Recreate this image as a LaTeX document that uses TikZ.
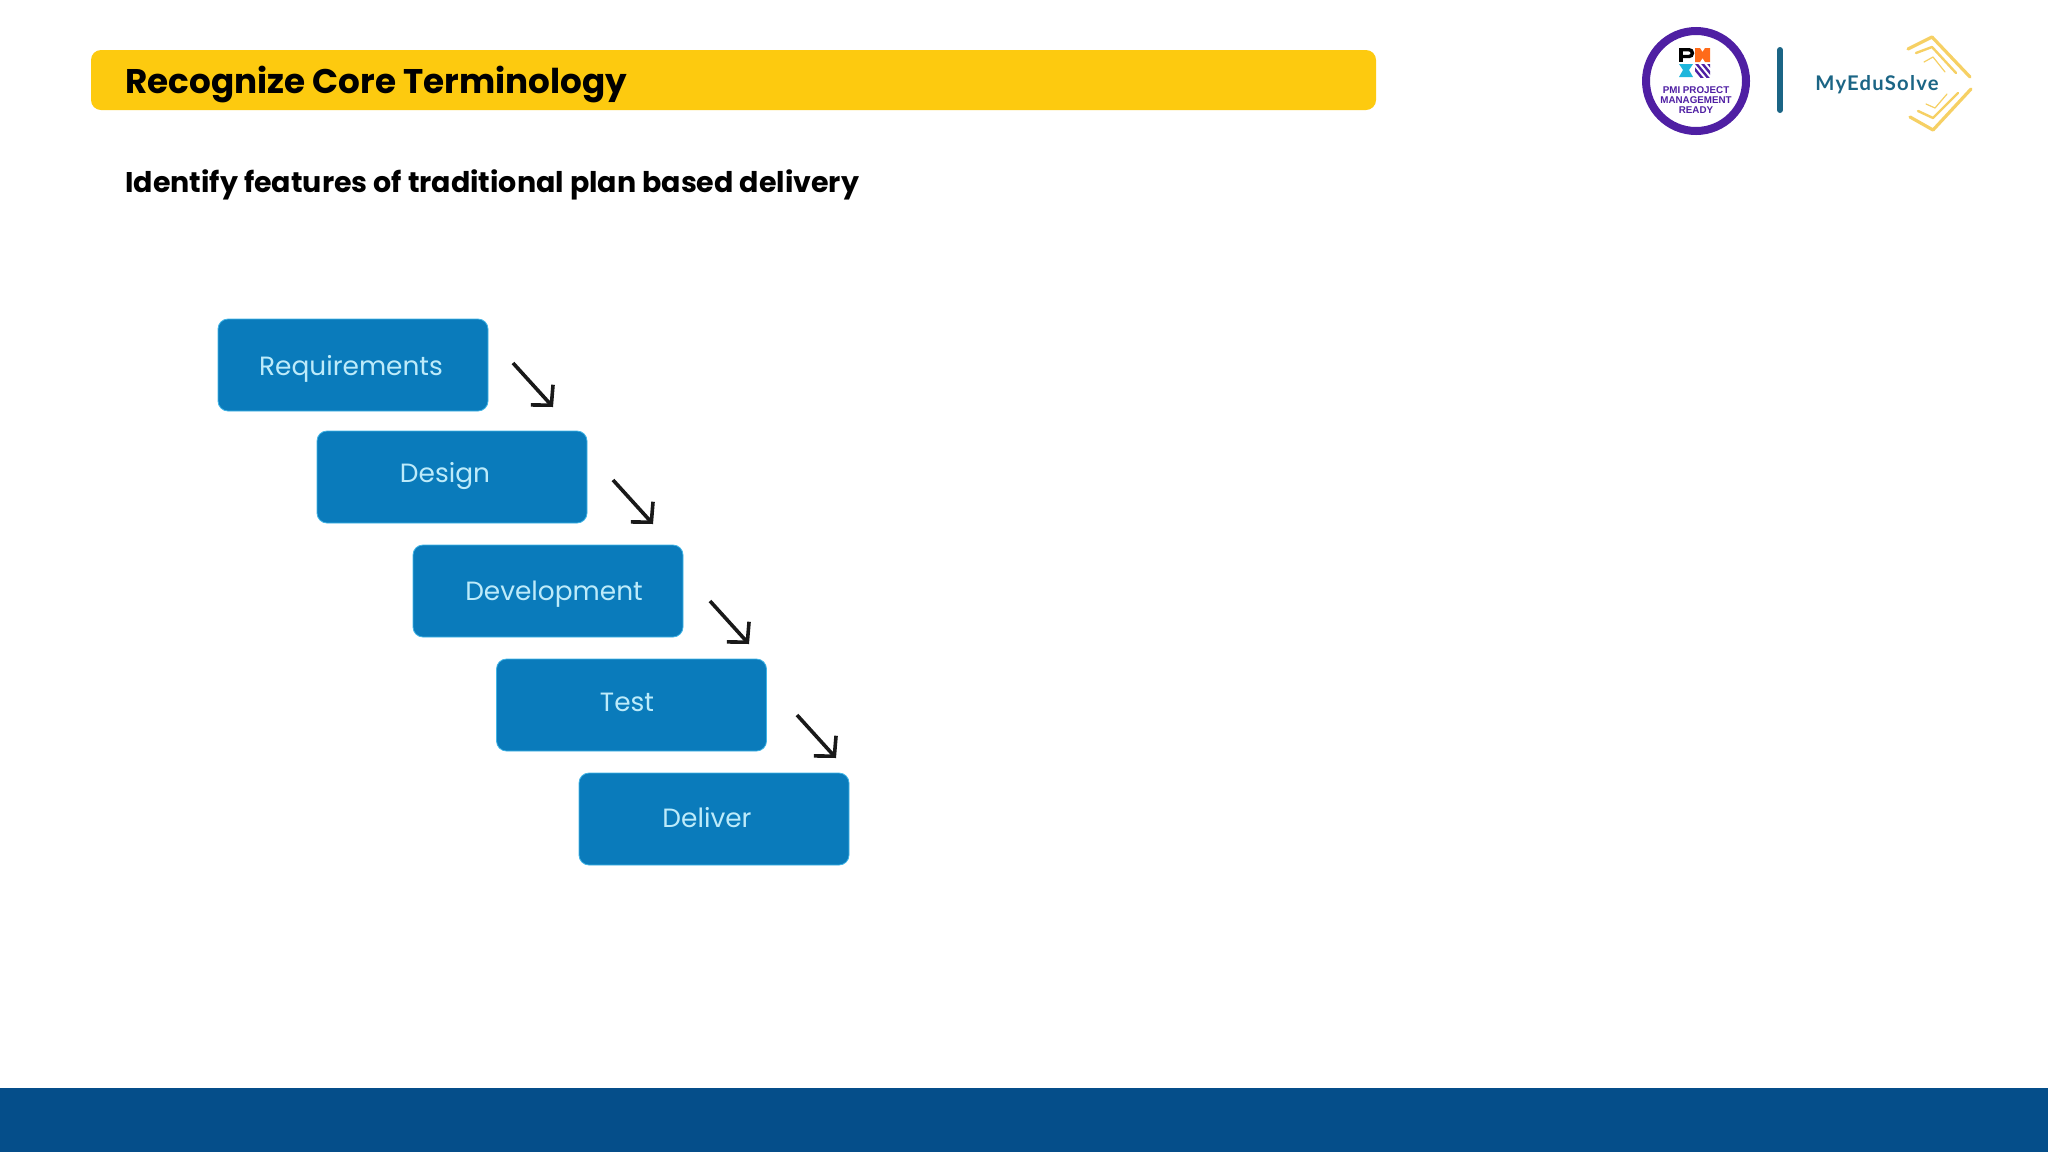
\documentclass[tikz,border=0pt]{standalone}
\usepackage{fontspec}
\setmainfont{Poppins}
\newfontfamily\helvfont{Liberation Sans}
\newfontfamily\brandfont[LetterSpace=6]{Lato}
\usetikzlibrary{arrows.meta}
\definecolor{barblue}{HTML}{054E8A}
\definecolor{baryellow}{HTML}{FDCA0F}
\definecolor{boxblue}{HTML}{0A7BBB}
\definecolor{boxedge}{HTML}{3FB4E6}
\definecolor{boxtext}{HTML}{BDEBFA}
\definecolor{pmipurple}{HTML}{4F1FA3}
\definecolor{pmiorange}{HTML}{FF6B1A}
\definecolor{pmicyan}{HTML}{1FB6DC}
\definecolor{brandteal}{HTML}{1B6585}
\definecolor{brandgold}{HTML}{F6D064}
\tikzset{
  stagebox/.style={draw=boxedge, line width=0.4pt, fill=boxblue, rounded corners=5pt,
    minimum width=135pt, minimum height=46pt, inner sep=0pt},
  stagelab/.style={text=boxtext, font=\fontsize{13.2}{15}\selectfont, anchor=base, inner sep=0pt},
  flow/.style={draw=black!90, line width=1.8pt, -{Straight Barb[length=7pt,width=15pt,line width=1.8pt]}},
  head/.style={text=black, font=\bfseries\fontsize{17.1}{21}\selectfont, anchor=base west, inner sep=0pt},
  chev/.style={draw=brandgold, line cap=round, line join=round},
  pmilab/.style={text=pmipurple, font=\helvfont\bfseries\fontsize{4.9}{5.6}\selectfont, anchor=base, inner sep=0pt},
}

\begin{document}
\begin{tikzpicture}[x=0.5pt,y=-0.5pt]
\useasboundingbox (0,0) rectangle (2048,1152);
\fill[white] (0,0) rectangle (2048,1152);
% footer and title bar
\fill[barblue] (0,1088) rectangle (2048,1152);
\fill[baryellow, rounded corners=5pt] (91,50) rectangle (1376,110);
\node[head] (title) at (125,93.5) {Recognize Core Terminology};
\node[head, font=\bfseries\fontsize{14.24}{18}\selectfont] (subtitle) at (125,192) {Identify features of traditional plan based delivery};
% stages
\node[stagebox] (req) at (353,365) {};
\node[stagebox] (des) at (452,477) {};
\node[stagebox] (dev) at (548,591) {};
\node[stagebox] (tst) at (631.5,705) {};
\node[stagebox] (del) at (714,819) {};
\node[stagelab] (reqlab) at (351,375) {Requirements};
\node[stagelab] (deslab) at (445,482) {Design};
\node[stagelab] (devlab) at (554,600) {Development};
\node[stagelab] (tstlab) at (627,711) {Test};
\node[stagelab] (dellab) at (707,827) {Deliver};
% arrows
\coordinate (a1) at (513,363);
\coordinate (b1) at (553,407);
\coordinate (a2) at (613,480);
\coordinate (b2) at (653,524);
\coordinate (a3) at (710,601);
\coordinate (b3) at (749,644);
\coordinate (a4) at (797,715);
\coordinate (b4) at (836,758);
\foreach \i in {1,2,3,4}
  \draw[flow] (a\i) -- (b\i);
% pmi badge
\draw[pmipurple, line width=4pt] (1696,81) circle (50);
\fill[black] (1679,48) rectangle (1683,62);
\draw[black, line width=1.7pt] (1681,49.7) -- (1689,49.7) arc (-90:90:3.4) -- (1681,56.5);
\fill[pmiorange] (1695,48) -- (1700,48) -- (1702.5,52) -- (1705,48) -- (1710,48) -- (1710,62) -- (1705,62) -- (1702.5,58) -- (1700,62) -- (1695,62) -- cycle;
\fill[pmicyan] (1679,64) -- (1693,64) -- (1689,70) -- (1693,77) -- (1679,77) -- (1683,70) -- cycle;
\begin{scope}
  \clip (1695,64) rectangle (1710,77);
  \foreach \s in {0,6,12,18}
    \draw[pmipurple, line width=1.2pt] (1689+\s,62) -- (1703+\s,79);
\end{scope}
\node[pmilab] (pmi1) at (1696,93) {PMI PROJECT};
\node[pmilab] (pmi2) at (1696,103) {MANAGEMENT};
\node[pmilab] (pmi3) at (1696,113) {READY};
% divider and brand
\draw[brandteal, line width=3pt, line cap=round] (1780,50) -- (1780,110);
\node[text=brandteal, font=\brandfont\bfseries\fontsize{10.1}{14}\selectfont, anchor=base west, inner sep=0pt] (brand) at (1815,90.5) {MyEduSolve};
\draw[chev, line width=1.6pt] (1908,49) -- (1932,37) -- (1970,77);
\draw[chev, line width=1.2pt] (1916,53) -- (1932,47) -- (1956,73);
\draw[chev, line width=0.6pt] (1924,62) -- (1933,57) -- (1945,72);
\draw[chev, line width=1.6pt] (1910,117) -- (1933,130) -- (1971,89);
\draw[chev, line width=1.2pt] (1918,111) -- (1933,118) -- (1958,93);
\draw[chev, line width=0.6pt] (1926,104) -- (1935,108) -- (1947,94);
\end{tikzpicture}
\end{document}
